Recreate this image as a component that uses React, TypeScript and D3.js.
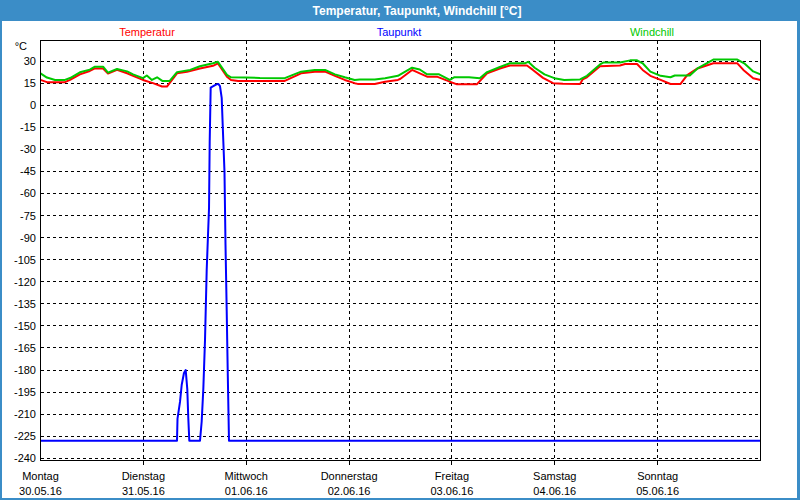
import React from "react";
import * as d3 from "d3";

const titleText = "Temperatur, Taupunkt, Windchill [°C]";
const unitLabel = "°C";
const seriesNames = ["Temperatur", "Taupunkt", "Windchill"];
const seriesColors = ["#ff0000", "#0000ff", "#00c800"];

const dayNames = ["Montag", "Dienstag", "Mittwoch", "Donnerstag", "Freitag", "Samstag", "Sonntag"];
const dayDates = ["30.05.16", "31.05.16", "01.06.16", "02.06.16", "03.06.16", "04.06.16", "05.06.16"];
const dayHours = [0, 24, 48, 72, 96, 120, 144];
const gridHours = [24, 48, 72, 96, 120, 144];

const yTicks = [30, 15, 0, -15, -30, -45, -60, -75, -90, -105, -120, -135, -150, -165, -180, -195, -210, -225, -240];

// [hours since Mon 30.05.16 00:00, °C]
const temperatur: [number, number][] = [
  [0, 17.2], [1.5, 15.7], [5.7, 15.7], [6.9, 17.2], [9.2, 21], [11.5, 23.3], [12.7, 25], [14.6, 25],
  [15.75, 21.5], [17.85, 24], [20.2, 21.7], [21.6, 20], [23.9, 17.2], [26.25, 15], [28.35, 12.7],
  [29.5, 12.7], [31.85, 21.7], [34.2, 22.8], [37.2, 25], [40.25, 26.8], [41.4, 28.4], [43.5, 19.4],
  [44.45, 17.2], [46.1, 16.5], [57, 16.5], [60.8, 21.7], [64, 22.8], [66.4, 22.8], [68.7, 20],
  [71, 17.2], [73.3, 15], [74, 14.5], [78, 14.5], [80.4, 16], [83.4, 17.2], [84, 18], [86.7, 24],
  [88.5, 21.7], [90.2, 19.4], [92.5, 19.4], [95.5, 16], [97.2, 14.2], [101.8, 14.2], [104.2, 21.7],
  [107.2, 25], [109.55, 27], [113.5, 27], [114.9, 24], [117.25, 18.6], [119.6, 15], [121.9, 14.6],
  [125.9, 14.5], [126.5, 17.5], [127.5, 19], [130.55, 26.5], [135.2, 27], [136.4, 28], [139.2, 28],
  [140.5, 24], [142.3, 20], [144.7, 17.2], [147, 14.4], [149.3, 14.4], [150.9, 20.5], [153.3, 25],
  [157, 28.5], [162.6, 28.5], [164, 24], [166.3, 18.4], [168, 17.2],
];

const taupunkt: [number, number][] = [
  [0, -228], [31.85, -228], [31.97, -213], [32.55, -201.7], [32.95, -190], [33.48, -182], [33.88, -180],
  [34.25, -193], [34.49, -213], [34.72, -228], [37.22, -228], [37.61, -215], [37.99, -193], [38.38, -160],
  [38.78, -112], [39.32, -70], [39.48, -24.5], [39.71, 12], [40.32, 13], [40.95, 14], [41.49, 14.5],
  [41.88, 13], [42.28, 5], [42.65, -24], [42.93, -45], [43.17, -95], [43.45, -140], [43.68, -180],
  [43.98, -228], [168, -228],
];

const windchill: [number, number][] = [
  [0, 21.7], [1.5, 18.8], [3.4, 17.2], [5.7, 17.2], [6.9, 18.5], [9.2, 22.4], [11.5, 24.2], [12.7, 26.2],
  [14.6, 26.2], [15.75, 22.2], [17.85, 24.6], [20.2, 23], [21.6, 21], [23.9, 18.4], [24.8, 20.2],
  [26, 17.2], [27.2, 19], [28.5, 16.4], [30.1, 16.4], [31.85, 22.5], [34.9, 24], [37.2, 26.5],
  [40.25, 28.5], [41.4, 29.5], [43.5, 20.6], [44.45, 19], [47.7, 18.9], [51.2, 18.5], [57, 18.4],
  [60.8, 22.8], [64, 24], [66.4, 24], [68.7, 21], [71, 19], [73.3, 17.2], [74.5, 17.5], [78, 17.5],
  [80.4, 18.4], [83.4, 20], [86.7, 25.5], [88.5, 24.3], [90.2, 21], [93, 21], [95.5, 17.2], [96.5, 19],
  [100, 19], [102.5, 18.4], [104.2, 22.5], [107.2, 26], [109.55, 28.5], [113, 28.5], [113.8, 29.5],
  [115.3, 25.5], [117.6, 21], [119.9, 18.4], [122.2, 17.2], [125.9, 17.5], [127.5, 20], [130.55, 27.7],
  [131.3, 29], [135.2, 29], [137.6, 30.5], [139.2, 30.5], [140.5, 28.5], [142.3, 22.8], [144.7, 20],
  [147, 19], [148, 20.2], [151.5, 20.2], [153.3, 25], [157, 31], [162.6, 31], [164.2, 28.5],
  [166.3, 23], [168, 21],
];

const W = 800;
const H = 500;
const frameBlue = "#3b8dc7";
const font = "'Liberation Sans', Arial, sans-serif";

export default function App() {
  const x = d3.scaleLinear().domain([0, 168]).range([40.5, 760.5]);
  const y = d3.scaleLinear().domain([-241.5, 44]).range([460.5, 40.5]);
  const line = d3
    .line<[number, number]>()
    .x((d) => x(d[0]))
    .y((d) => y(d[1]));
  const snap = (v: number) => Math.round(v - 0.5) + 0.5;
  const [x0, x1] = x.range();
  const [yb, yt] = y.range();

  return (
    <svg
      width={W}
      height={H}
      style={{ position: "fixed", left: 0, top: 0, background: "#fff" }}
      fontFamily={font}
    >
      <rect x={0} y={0} width={W} height={H} fill="#fff" />
      {/* window frame */}
      <rect x={0} y={0} width={W} height={21} fill={frameBlue} />
      <rect x={0} y={0} width={2} height={H} fill={frameBlue} />
      <rect x={W - 3} y={0} width={3} height={H} fill={frameBlue} />
      <rect x={0} y={H - 2} width={W} height={2} fill={frameBlue} />
      <text x={417} y={15} textAnchor="middle" fill="#fff" fontSize={12} fontWeight="bold">
        {titleText}
      </text>

      {/* legend */}
      {seriesNames.map((n, i) => (
        <text key={n} x={[147, 399, 652][i]} y={36} textAnchor="middle" fill={seriesColors[i]} fontSize={11}>
          {n}
        </text>
      ))}

      {/* grid */}
      <g stroke="#000" strokeWidth={1} strokeDasharray="3,3" shapeRendering="crispEdges">
        {yTicks.map((t) => (
          <line key={t} x1={x0} x2={x1} y1={snap(y(t))} y2={snap(y(t))} />
        ))}
        {gridHours.map((h) => (
          <line key={h} x1={snap(x(h))} x2={snap(x(h))} y1={yt} y2={yb} />
        ))}
      </g>

      {/* series */}
      <g fill="none" strokeWidth={2} strokeLinejoin="round">
        <path d={line(temperatur) || ""} stroke={seriesColors[0]} />
        <path d={line(windchill) || ""} stroke={seriesColors[2]} />
        <path d={line(taupunkt) || ""} stroke={seriesColors[1]} />
      </g>

      {/* frame */}
      <rect x={x0} y={yt} width={x1 - x0} height={yb - yt} fill="none" stroke="#000" strokeWidth={1} shapeRendering="crispEdges" />
      <g stroke="#000" shapeRendering="crispEdges">
        {gridHours.map((h) => (
          <line key={h} x1={snap(x(h))} x2={snap(x(h))} y1={yb} y2={yb + 4} />
        ))}
      </g>

      {/* y labels */}
      <text x={27} y={50} textAnchor="end" fontSize={11} fill="#000">
        {unitLabel}
      </text>
      {yTicks.map((t) => (
        <text key={t} x={36} y={y(t) + 4} textAnchor="end" fontSize={11} fill="#000">
          {t}
        </text>
      ))}

      {/* x labels */}
      {dayHours.map((h, i) => (
        <g key={h}>
          <text x={x(h)} y={480} textAnchor="middle" fontSize={11} fill="#000">
            {dayNames[i]}
          </text>
          <text x={x(h)} y={495} textAnchor="middle" fontSize={11} fill="#000">
            {dayDates[i]}
          </text>
        </g>
      ))}
    </svg>
  );
}
